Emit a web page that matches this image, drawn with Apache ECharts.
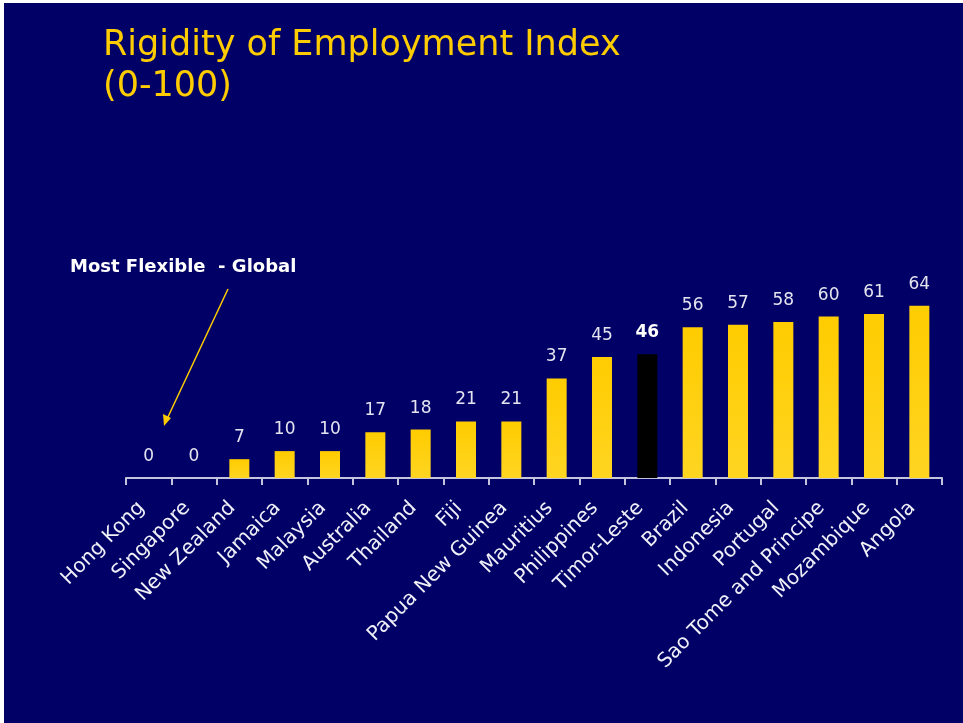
<!DOCTYPE html>
<html>
<head>
<meta charset="utf-8">
<script src="https://cdn.jsdelivr.net/npm/echarts@6/dist/echarts.min.js"></script>
<style>
html,body{margin:0;padding:0;background:#ffffff;}
#chart{width:963px;height:723px;}
</style>
</head>
<body>
<div id="chart"></div>
<script>
const categories = ["Hong Kong","Singapore","New Zealand","Jamaica","Malaysia","Australia","Thailand","Fiji","Papua New Guinea","Mauritius","Philippines","Timor-Leste","Brazil","Indonesia","Portugal","Sao Tome and Principe","Mozambique","Angola"];
const values = [0,0,7,10,10,17,18,21,21,37,45,46,56,57,58,60,61,64];
const highlight = "Timor-Leste";
const titleLines = ["Rigidity of Employment Index","(0-100)"];
const noteText = "Most Flexible  - Global";

const NAVY = "#000066";
const GOLD = "#FFCC00";
const FONT = "DejaVu Sans, Verdana, sans-serif";

const barGradient = {
  type: 'linear', x: 0, y: 0, x2: 0, y2: 1,
  colorStops: [{offset: 0, color: '#FFCC00'}, {offset: 1, color: '#FFD522'}]
};

const seriesData = values.map((v, i) => {
  const isHi = categories[i] === highlight;
  return {
    value: v,
    itemStyle: { color: isHi ? '#000000' : barGradient },
    label: isHi ? { color: '#ffffff', fontWeight: 'bold' } : undefined
  };
});

const chart = echarts.init(document.getElementById('chart'), null, {renderer: 'canvas'});
chart.setOption({
  backgroundColor: '#ffffff',
  animation: false,
  title: {
    text: titleLines.join('\n'),
    left: 98,
    top: 20,
    textStyle: { color: GOLD, fontSize: 35, fontWeight: 'normal', fontFamily: FONT, lineHeight: 41 }
  },
  graphic: [
    { type: 'rect', z: -10, silent: true, shape: { x: 4, y: 3, width: 963, height: 723 }, style: { fill: NAVY } },
    { type: 'text', left: 70, top: 258, style: { text: noteText, fill: '#ffffff', font: 'bold 18px ' + FONT } },
    { type: 'line', shape: { x1: 228, y1: 289, x2: 167, y2: 419 }, style: { stroke: GOLD, lineWidth: 1.5 } },
    { type: 'polygon', shape: { points: [[164, 426], [163, 414], [171, 418]] }, style: { fill: GOLD } }
  ],
  grid: { left: 126, right: 21, top: 209, bottom: 245, containLabel: false },
  xAxis: {
    type: 'category',
    data: categories,
    axisLine: { lineStyle: { color: '#c4c4dc', width: 2 } },
    axisTick: { show: true, length: 7, lineStyle: { color: '#c4c4dc', width: 2 } },
    axisLabel: { interval: 0, rotate: 45, margin: 34, verticalAlign: 'bottom', color: '#f0f0f8', fontSize: 20, fontFamily: FONT }
  },
  yAxis: { type: 'value', min: 0, max: 100, show: false, splitLine: { show: false } },
  series: [{
    type: 'bar',
    data: seriesData,
    barWidth: 20,
    label: { show: true, position: 'top', distance: 13, color: '#e4e4f0', fontSize: 17, fontFamily: FONT }
  }]
});
</script>
</body>
</html>
